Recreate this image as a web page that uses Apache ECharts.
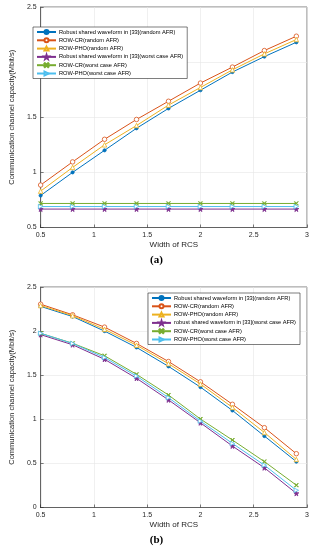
<!DOCTYPE html>
<html><head><meta charset="utf-8">
<script src="https://cdn.jsdelivr.net/npm/echarts@6/dist/echarts.min.js"></script>
<style>html,body{margin:0;padding:0;background:#fff}#c{width:313px;height:550px}</style>
</head><body><div id="c"></div>
<script>
// shared x
const widths = [0.5, 0.8, 1.1, 1.4, 1.7, 2.0, 2.3, 2.6, 2.9];
const xTicks = ['0.5','1','1.5','2','2.5','3'];
// (a)
const namesA = ['Robust shared waveform in [33](random AFR)','ROW-CR(random AFR)','ROW-PHO(random AFR)','Robust shared waveform in [33](worst case AFR)','ROW-CR(worst case AFR)','ROW-PHO(worst case AFR)'];
const a_robustRandom = [0.79, 1.00, 1.20, 1.40, 1.58, 1.745, 1.91, 2.05, 2.18];
const a_crRandom     = [0.885, 1.095, 1.30, 1.48, 1.645, 1.81, 1.955, 2.105, 2.235];
const a_phoRandom    = [0.83, 1.045, 1.25, 1.425, 1.61, 1.77, 1.93, 2.075, 2.205];
const a_robustWorst  = [0.667, 0.667, 0.667, 0.667, 0.667, 0.667, 0.667, 0.667, 0.667];
const a_crWorst      = [0.718, 0.718, 0.718, 0.718, 0.718, 0.718, 0.718, 0.718, 0.718];
const a_phoWorst     = [0.69, 0.69, 0.69, 0.69, 0.69, 0.69, 0.69, 0.69, 0.69];
const yTicksA = ['0.5','1','1.5','2','2.5'];
// (b)
const namesB = ['Robust shared waveform in [33](random AFR)','ROW-CR(random AFR)','ROW-PHO(random AFR)','robust shared waveform in [33](worst case AFR)','ROW-CR(worst case AFR)','ROW-PHO(worst case AFR)'];
const b_robustRandom = [2.28, 2.165, 2.00, 1.815, 1.60, 1.365, 1.10, 0.81, 0.52];
const b_crRandom     = [2.305, 2.185, 2.045, 1.86, 1.655, 1.425, 1.17, 0.905, 0.61];
const b_phoRandom    = [2.29, 2.175, 2.02, 1.84, 1.63, 1.40, 1.135, 0.85, 0.545];
const b_robustWorst  = [1.96, 1.845, 1.68, 1.465, 1.22, 0.96, 0.697, 0.45, 0.16];
const b_crWorst      = [1.975, 1.862, 1.72, 1.51, 1.275, 1.003, 0.765, 0.52, 0.253];
const b_phoWorst     = [1.975, 1.86, 1.70, 1.49, 1.245, 0.98, 0.727, 0.48, 0.195];
const yTicksB = ['0','0.5','1','1.5','2','2.5'];

const colors = ['#0072BD','#D95319','#EDB120','#7E2F8E','#77AC30','#4DBEEE'];
const starPath = 'path://M50,0 L61,35 L98,35 L68,57 L79,91 L50,70 L21,91 L32,57 L2,35 L39,35 Z';
const xPath = 'path://M1,0 L5,4 L9,0 L10,1 L6,5 L10,9 L9,10 L5,6 L1,10 L0,9 L4,5 L0,1 Z';
const symbols = [
  {symbol:'circle', size:3.2, fill:colors[0]},
  {symbol:'circle', size:4.5, fill:'#fff'},
  {symbol:'triangle', size:4.5, fill:'#fff'},
  {symbol:starPath, size:5, fill:colors[3]},
  {symbol:xPath, size:4, fill:colors[4]},
  {symbol:'triangle', size:4.5, fill:'#fff', rotate:-90}
];
const font = 'Liberation Sans, Arial, sans-serif';
const dataA = [a_robustRandom,a_crRandom,a_phoRandom,a_robustWorst,a_crWorst,a_phoWorst];
const dataB = [b_robustRandom,b_crRandom,b_phoRandom,b_robustWorst,b_crWorst,b_phoWorst];

function mkSeries(names, datas, idx) {
  return names.map((n,i)=>({
    name:n, type:'line', xAxisIndex:idx, yAxisIndex:idx,
    data: widths.map((w,k)=>[w, datas[i][k]]),
    symbol: symbols[i].symbol, symbolSize: symbols[i].size, symbolRotate: symbols[i].rotate||0,
    showAllSymbol:true,
    lineStyle:{color:colors[i], width:1, type:'solid'},
    itemStyle:{color: symbols[i].fill, borderColor: colors[i], borderWidth:0.8},
    emphasis:{disabled:true}, animation:false, z: 3+i
  }));
}
function xAxis(idx){
  return {type:'value', gridIndex:idx, min:0.5, max:3, interval:0.5,
    name:'Width of RCS', nameLocation:'middle', nameGap:13,
    nameTextStyle:{fontSize:8, color:'#262626', fontFamily:font},
    axisLine:{show:true, onZero:false, lineStyle:{color:'#262626', width:0.6}},
    axisTick:{show:true, inside:true, length:3, lineStyle:{color:'#262626', width:0.6}},
    axisLabel:{fontSize:7, color:'#262626', fontFamily:font, margin:4,
      formatter:(v)=>xTicks[Math.round((v-0.5)/0.5)]},
    splitLine:{show:true, lineStyle:{color:'#e6e6e6', width:0.6}}};
}
function yAxis(idx, min, ticks){
  return {type:'value', gridIndex:idx, min:min, max:2.5, interval:0.5,
    name:'Communication channel capacity(Mbit/s)', nameLocation:'middle', nameGap:18,
    nameTextStyle:{fontSize:7.5, color:'#262626', fontFamily:font},
    axisLine:{show:true, onZero:false, lineStyle:{color:'#262626', width:0.6}},
    axisTick:{show:true, inside:true, length:3, lineStyle:{color:'#262626', width:0.6}},
    axisLabel:{fontSize:7, color:'#262626', fontFamily:font, margin:4,
      formatter:(v)=>ticks[Math.round((v-min)/0.5)]},
    splitLine:{show:true, lineStyle:{color:'#e6e6e6', width:0.6}}};
}
function legend(names, left, top){
  return {orient:'vertical', left:left, top:top, data:names,
    itemWidth:19, itemHeight:5, itemGap:2.3, padding:[2,4,2,3],
    borderColor:'#262626', borderWidth:0.6, backgroundColor:'#fff',
    textStyle:{fontSize:5.7, color:'#000', fontFamily:font, padding:[0,0,0,-2]},
    selectedMode:false, z:20};
}
const chart = echarts.init(document.getElementById('c'), null, {renderer:'canvas'});
chart.setOption({
  animation:false,
  grid:[
    {left:27, top:7, width:280, height:220.5, show:true, borderColor:'#262626', borderWidth:0.6, backgroundColor:'#fff'},
    {left:27, top:287, width:280, height:220.5, show:true, borderColor:'#262626', borderWidth:0.6, backgroundColor:'#fff'}
  ],
  xAxis:[xAxis(0), xAxis(1)],
  yAxis:[yAxis(0,0.5,yTicksA), yAxis(1,0,yTicksB)],
  legend:[legend(namesA,33,27), legend(namesB,148,293)],
  series:[...mkSeries(namesA,dataA,0), ...mkSeries(namesB,dataB,1)],
  graphic:[
    {type:'text', left:'center', top:255, style:{text:'(a)', fontSize:11, fontWeight:'bold', fontFamily:'Liberation Serif, serif', fill:'#000'}},
    {type:'text', left:'center', top:535, style:{text:'(b)', fontSize:11, fontWeight:'bold', fontFamily:'Liberation Serif, serif', fill:'#000'}}
  ]
});
</script></body></html>
